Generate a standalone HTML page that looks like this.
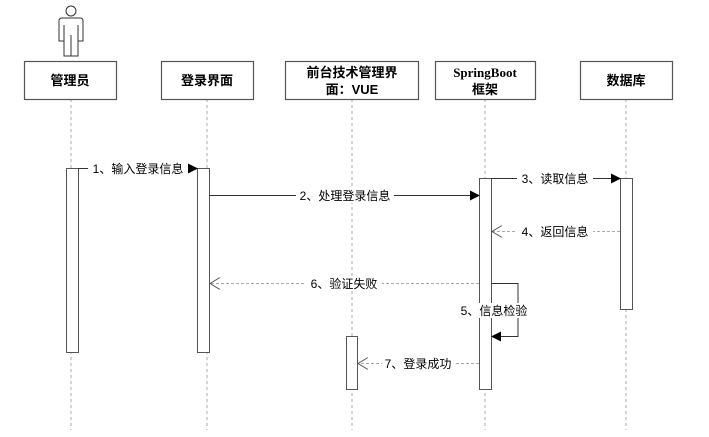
<!DOCTYPE html>
<html><head><meta charset="utf-8"><style>
body{margin:0;background:#fff;}
svg{display:block;font-family:"Liberation Sans","Noto Sans CJK SC",sans-serif;}
</style></head><body>
<svg width="709" height="437" viewBox="0 0 709 437" xmlns="http://www.w3.org/2000/svg">
<defs>
<marker id="f" markerWidth="10" markerHeight="10" refX="9" refY="5" orient="auto" markerUnits="userSpaceOnUse"><path d="M0,0 L10,5 L0,10 z" fill="#000"/></marker>
<marker id="o" markerWidth="12" markerHeight="12" refX="11" refY="6" orient="auto" markerUnits="userSpaceOnUse"><path d="M1,0 L11,6 L1,12" fill="none" stroke="#555"/></marker>
</defs>
<g fill="none" stroke="#333" stroke-width="1">
<circle cx="71" cy="11" r="5"/>
<path d="M62,18 H80 Q83,18 83,21 V41 H78 V56 H64 V41 H59 V21 Q59,18 62,18 Z"/>
<path d="M64,25 V41 M78,25 V41 M71,35 V56"/>
</g>
<g stroke="#aaa" stroke-dasharray="3,3" stroke-width="1">
<line x1="71" y1="99" x2="71" y2="430"/>
<line x1="207" y1="99" x2="207" y2="430"/>
<line x1="352" y1="99" x2="352" y2="430"/>
<line x1="485" y1="99" x2="485" y2="430"/>
<line x1="626" y1="99" x2="626" y2="430"/>
</g>
<g fill="#fff" stroke="#555" stroke-width="1.2">
<rect x="24.5" y="61.5" width="92" height="38"/>
<rect x="161.5" y="61.5" width="92" height="38"/>
<rect x="285.5" y="61.5" width="133" height="38"/>
<rect x="435.5" y="61.5" width="100" height="38"/>
<rect x="580.5" y="61.5" width="92" height="38"/>
</g>
<g font-weight="bold" font-size="13" text-anchor="middle" fill="#000">
<text x="70" y="85">管理员</text>
<text x="207" y="85">登录界面</text>
<text x="352" y="77">前台技术管理界</text>
<text x="352" y="94">面：VUE</text>
<text x="485" y="77" font-family="Liberation Serif,serif">SpringBoot</text>
<text x="485" y="94">框架</text>
<text x="626" y="85">数据库</text>
</g>
<g fill="#fff" stroke="#555" stroke-width="1">
<rect x="66.5" y="168.5" width="12" height="184"/>
<rect x="197.5" y="168.5" width="12" height="184"/>
<rect x="346.5" y="336.5" width="11" height="53"/>
<rect x="479.5" y="178.5" width="12" height="211"/>
<rect x="620.5" y="178.5" width="12" height="131"/>
</g>
<g stroke="#333" stroke-width="1" fill="none">
<line x1="78" y1="168.5" x2="197" y2="168.5" marker-end="url(#f)"/>
<line x1="209" y1="195.5" x2="479" y2="195.5" marker-end="url(#f)"/>
<line x1="491" y1="178.5" x2="620" y2="178.5" marker-end="url(#f)"/>
<path d="M491,283.5 H518 V336.5 H492" marker-end="url(#f)"/>
</g>
<g stroke="#aaa" stroke-width="1" stroke-dasharray="3,2" fill="none">
<line x1="620" y1="231.5" x2="492" y2="231.5" marker-end="url(#o)"/>
<line x1="479" y1="283.5" x2="210" y2="283.5" marker-end="url(#o)"/>
<line x1="479" y1="363.5" x2="358" y2="363.5" marker-end="url(#o)"/>
</g>
<g font-size="12" fill="#000" text-anchor="middle">
<rect x="88" y="161" width="100" height="15" fill="#fff"/>
<text x="138" y="173">1、输入登录信息</text>
<rect x="296" y="188" width="98" height="15" fill="#fff"/>
<text x="345" y="200">2、处理登录信息</text>
<rect x="517" y="171" width="76" height="15" fill="#fff"/>
<text x="555" y="183">3、读取信息</text>
<rect x="517" y="224" width="76" height="15" fill="#fff"/>
<text x="555" y="236">4、返回信息</text>
<rect x="306" y="276" width="76" height="15" fill="#fff"/>
<text x="344" y="288">6、验证失败</text>
<rect x="457" y="303" width="74" height="15" fill="#fff"/>
<text x="494" y="315">5、信息检验</text>
<rect x="382" y="356" width="72" height="15" fill="#fff"/>
<text x="418" y="368">7、登录成功</text>
</g>
</svg>
</body></html>
